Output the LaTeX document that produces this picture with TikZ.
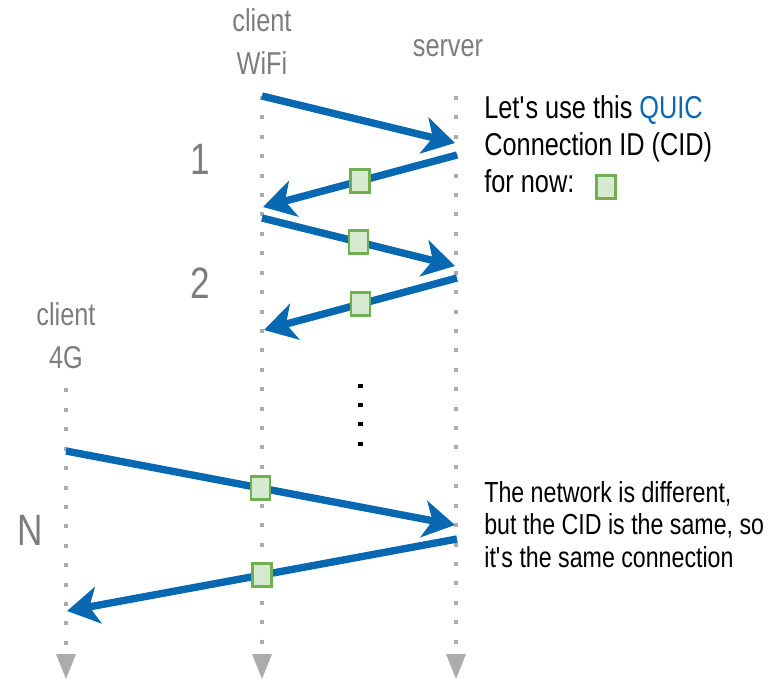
\documentclass[tikz,border=0pt]{standalone}
\usepackage{fontspec}
\setmainfont{Liberation Sans}[FakeStretch=0.8]
\usepackage{xcolor}
\usepackage{tikz}
\usetikzlibrary{arrows.meta, positioning}

\definecolor{quicblue}{RGB}{8,104,178}
\definecolor{lanegray}{RGB}{125,125,125}
\definecolor{dotgray}{RGB}{172,172,172}
\definecolor{cidfill}{RGB}{214,233,209}
\definecolor{cidline}{RGB}{112,176,80}

\begin{document}
\begin{tikzpicture}[x=0.02cm, y=-0.02cm,
    lanelabel/.style={text=lanegray, align=center, font=\fontsize{18}{24.5}\selectfont, inner sep=0pt},
    roundlabel/.style={text=lanegray, font=\fontsize{25}{30}\selectfont, inner sep=0pt},
    note/.style={anchor=north west, align=left, inner sep=0pt, font=\fontsize{18}{21}\selectfont},
    lifeline/.style={draw=dotgray, line width=2.27pt, dash pattern=on 2.27pt off 8.78pt},
    msg/.style={draw=quicblue, line width=4.2pt, -{Stealth[length=18pt, width=21pt, inset=5pt]}},
    cid/.style={rectangle, draw=cidline, fill=cidfill, line width=1.2pt, minimum width=0.38cm, minimum height=0.46cm, inner sep=0pt},
    ellipsisdot/.style={rectangle, fill=black, minimum size=0.1cm, inner sep=0pt}]

    \useasboundingbox (0,0) rectangle (772,679);

    \node [lanelabel] (wifi) at (262,42) {client\\WiFi};
    \node [lanelabel] (server) at (448,48) {server};
    \node [lanelabel] (fourg) at (66,336) {client\\4G};

    \node [roundlabel] (round1) at (200,159) {1};
    \node [roundlabel] (round2) at (200,283) {2};
    \node [roundlabel] (roundN) at (30,530) {N};

    \foreach \lane/\x/\top in {fourg/66/388.5, wifi/262/96, server/456/96} {
        \coordinate (\lane top) at (\x,\top);
        \coordinate (\lane end) at (\x,648);
        \draw [lifeline] (\lane top) -- (\lane end);
        \fill [dotgray] (\x-10,654) -- (\x+10,654) -- (\x,679) -- cycle;
    }

    \coordinate (w1) at (262,96);  \coordinate (s1) at (455,143);
    \coordinate (s2) at (457,155); \coordinate (w2) at (263,207);
    \coordinate (w3) at (262,218); \coordinate (s3) at (455,266);
    \coordinate (s4) at (457,278); \coordinate (w4) at (264,330);
    \coordinate (g5) at (66,451);  \coordinate (s5) at (455,525);
    \coordinate (s6) at (457,539); \coordinate (g6) at (67,611);

    \draw [msg] (w1) -- (s1);
    \draw [msg] (s2) -- node[cid] (cid2) {} (w2);
    \draw [msg] (w3) -- node[cid] (cid3) {} (s3);
    \draw [msg] (s4) -- node[cid] (cid4) {} (w4);
    \draw [msg] (g5) -- node[cid] (cid5) {} (s5);
    \draw [msg] (s6) -- node[cid] (cid6) {} (g6);

    \foreach \i/\y in {1/386, 2/405, 3/424, 4/444}
        \node [ellipsisdot] (vdot\i) at (360,\y) {};

    \node [note] (hello) at (484,95) {Let\textquotesingle s use this \textcolor{quicblue}{QUIC}\\Connection ID (CID)\\for now:};
    \node [cid] (legend) at (606,187) {};

    \node [note, font=\fontsize{16.5}{18.4}\selectfont] (samecid) at (484,481) {The network is different,\\but the CID is the same, so\\it\textquotesingle s the same connection};

\end{tikzpicture}
\end{document}
